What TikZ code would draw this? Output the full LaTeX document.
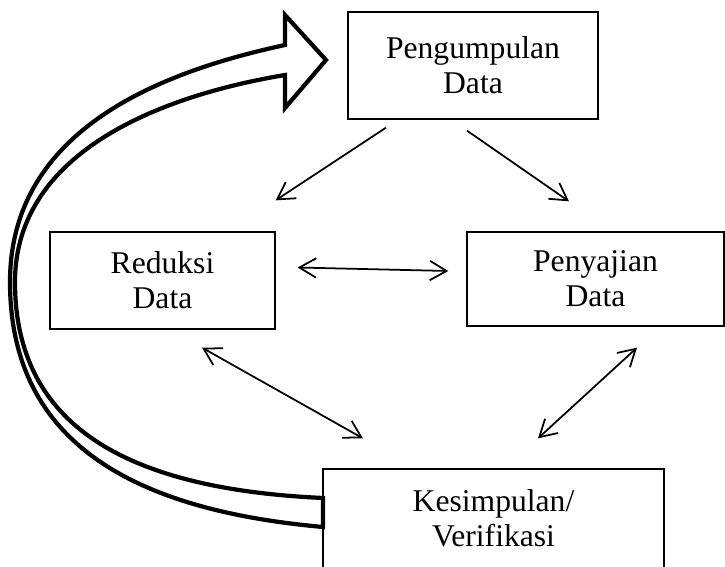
\documentclass[tikz,border=0pt]{standalone}
\usepackage{fontspec}
\setmainfont{Liberation Serif}
\usepackage{tikz}
\usetikzlibrary{calc, positioning, arrows.meta}

\begin{document}
\begin{tikzpicture}[
    x=0.02cm, y=-0.02cm,
    >={Straight Barb[length=9.5pt,width=11pt]},
    font=\fontsize{18}{20}\selectfont
]

    % Styles for the boxes and arrows
    \tikzset{
        stagebox/.style={draw, line width=0.75pt, align=center, inner sep=0pt},
        flow/.style={line width=1pt},
        cycle arrow/.style={line width=2.4pt, fill=white}
    }

    \useasboundingbox (0,0) rectangle (725,567);

    % Stages
    \node[stagebox, minimum width=5cm, minimum height=2.14cm] (pengumpulan) at (473,65.5) {Pengumpulan\\Data};
    \node[stagebox, minimum width=4.5cm, minimum height=1.94cm] (reduksi) at (162.5,280.5) {Reduksi\\Data};
    \node[stagebox, minimum width=5.14cm, minimum height=1.88cm] (penyajian) at (595.5,279) {Penyajian\\Data};
    \node[stagebox, minimum width=6.82cm, minimum height=1.98cm] (kesimpulan) at (493.5,518.5) {Kesimpulan/\\Verifikasi};

    % Collection -> reduction / display
    \draw[flow, ->] ([shift={(-87,8)}]pengumpulan.south) -- ([shift={(0,-31)}]reduksi.north east);
    \draw[flow, ->] ([shift={(-6,11)}]pengumpulan.south) -- ([shift={(-26.5,-30)}]penyajian.north);

    % Two-way links
    \draw[flow, <->] ([shift={(22,-13)}]reduksi.east) -- ([shift={(-18,-8)}]penyajian.west);
    \draw[flow, <->] ([shift={(39.5,18)}]reduksi.south) -- ([shift={(-130.5,-30)}]kesimpulan.north);
    \draw[flow, <->] ([shift={(41.5,21)}]penyajian.south) -- ([shift={(44.5,-30)}]kesimpulan.north);

    % Big curved arrow back to the start
    \draw[cycle arrow] (323,527)
        .. controls (145,511) and (10,450) .. (10,282)
        .. controls (10,130) and (160,72) .. (285,45)
        -- (285,15) -- (326,60) -- (285,108) -- (285,75)
        .. controls (165,95) and (15,150) .. (15,282)
        .. controls (15,425) and (125,489) .. (323,498)
        -- cycle;

\end{tikzpicture}
\end{document}
